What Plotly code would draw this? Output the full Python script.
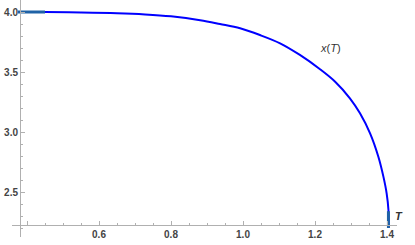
import plotly.graph_objects as go

# Curve x(T)
T_vals = [0.381, 0.45, 0.55, 0.65, 0.728, 0.80, 0.881, 0.936, 0.992, 1.047, 1.103,
          1.158, 1.214, 1.256, 1.297, 1.325, 1.353, 1.376, 1.390, 1.399, 1.404, 1.405]
X_vals = [4.000, 3.999, 3.996, 3.990, 3.980, 3.964, 3.932, 3.900, 3.864, 3.808, 3.739,
          3.642, 3.523, 3.419, 3.281, 3.156, 2.989, 2.794, 2.628, 2.489, 2.350, 2.200]

# Short highlighted segments (darker colour) at both ends
seg1_T = [0.375, 0.45]
seg1_X = [4.0, 4.0]
seg2_T = [1.404, 1.404]
seg2_X = [2.34, 2.2]

x_tickvals = [0.4, 0.6, 0.8, 1.0, 1.2, 1.4]
x_ticktext = ["", "0.6", "0.8", "1.0", "1.2", "1.4"]
y_tickvals = [2.5, 3.0, 3.5, 4.0]
y_ticktext = ["2.5", "3.0", "3.5", "4.0"]

W, H = 415, 245
fig = go.Figure()
fig.add_trace(go.Scatter(x=T_vals, y=X_vals, mode="lines",
                         line=dict(color="#0000FF", width=2, shape="spline", smoothing=1.0),
                         hoverinfo="skip", showlegend=False, cliponaxis=True))
fig.add_trace(go.Scatter(x=seg1_T, y=seg1_X, mode="lines",
                         line=dict(color="#1F62A6", width=3),
                         hoverinfo="skip", showlegend=False))
fig.add_trace(go.Scatter(x=seg2_T, y=seg2_X, mode="lines",
                         line=dict(color="#1F62A6", width=3),
                         hoverinfo="skip", showlegend=False))

axis_col = "#B0B0B0"
font_col = "#444444"

# pixel geometry
x_left_px, x_right_px = 12, 397
y_top_px, y_bot_px = 0, 237
def T_at(px):
    return 0.6 + (px - 99) / 360.0
def X_at(py):
    return 4.0 - (py - 12) / 120.0

fig.update_layout(
    width=W, height=H,
    margin=dict(l=0, r=0, t=0, b=0, autoexpand=False),
    paper_bgcolor="white", plot_bgcolor="white",
    xaxis=dict(
        domain=[x_left_px / W, x_right_px / W],
        range=[T_at(x_left_px), T_at(x_right_px)],
        anchor="free", position=(H - 225) / H, automargin=False,
        showgrid=False, zeroline=False,
        showline=True, linecolor=axis_col, linewidth=1,
        tickvals=x_tickvals, ticktext=x_ticktext,
        ticks="inside", ticklen=4, tickcolor=axis_col, tickwidth=1,
        minor=dict(tick0=0.4, dtick=0.05, ticks="inside", ticklen=2, tickcolor=axis_col, showgrid=False),
        tickfont=dict(family="Liberation Sans, Arial, sans-serif", size=10, color=font_col, weight="bold"),
    ),
    yaxis=dict(
        domain=[(H - y_bot_px) / H, (H - y_top_px) / H],
        range=[X_at(y_bot_px), X_at(y_top_px)],
        anchor="free", position=20 / W, automargin=False,
        showgrid=False, zeroline=False,
        showline=True, linecolor=axis_col, linewidth=1,
        tickvals=y_tickvals, ticktext=y_ticktext,
        ticks="inside", ticklen=4, tickcolor=axis_col, tickwidth=1,
        minor=dict(tick0=2.0, dtick=0.1, ticks="inside", ticklen=2, tickcolor=axis_col, showgrid=False),
        tickfont=dict(family="Liberation Sans, Arial, sans-serif", size=10, color=font_col, weight="bold"),
    ),
    annotations=[
        dict(x=1.242, y=3.70, xref="x", yref="y", text="<i>x</i>(<i>T</i>)", showarrow=False,
             font=dict(family="Liberation Sans, Arial, sans-serif", size=11, color="#333333")),
        dict(x=405 / W, y=(H - 224) / H, xref="paper", yref="paper", text="<i><b>T</b></i>",
             showarrow=False,
             font=dict(family="Liberation Sans, Arial, sans-serif", size=11, color="#333333")),
    ],
)

fig.write_html("out.html", config={"displayModeBar": False},
               post_script="document.body.style.margin='0';document.body.style.overflow='hidden';")
